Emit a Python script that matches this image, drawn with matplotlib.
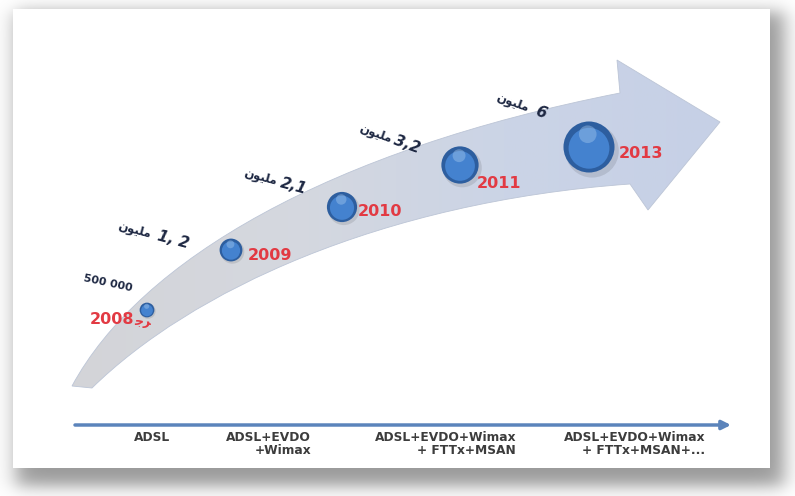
import numpy as np
import matplotlib.pyplot as plt
from matplotlib.path import Path
from matplotlib.patches import PathPatch, Rectangle
from matplotlib.colors import LinearSegmentedColormap

W, H = 795, 496

# ---- data ----
years = ["2008", "2009", "2010", "2011", "2013"]
subscribers = [0.5, 1.2, 2.1, 3.2, 6.0]          # millions
subscriber_labels = ["500 000", "1, 2", "2,1", "3,2", "6"]
technologies = [
    "ADSL",
    "ADSL+EVDO\n+Wimax",
    "ADSL+EVDO+Wimax\n+ FTTx+MSAN",
    "ADSL+EVDO+Wimax\n+ FTTx+MSAN+...",
]
MILLION = "\ufee5\ufeee\ufef4\ufee0\ufee3"   # "مليون" in visual order
YEAR0_SUFFIX = "\ufe9f\ufeae"                  # arabic letters after 2008

# ---- layout (pixels, y down) ----
bubble_pos = [(147, 310), (231, 250), (342, 207), (460, 165), (589, 147)]
year_pos = [(112, 320), (270, 256), (380, 211), (499, 184), (641, 153)]
count_pos = [(108, 283), (173, 240), (294, 186), (407, 145), (541, 113)]
count_rot = [-12, -15, -15, -20, -20]
word_gap = [0, 40, 35, 34, 30]
tech_right = [170, 311, 516, 705]
BUBBLE_SCALE = 225

NAVY = "#1d2742"
RED = "#e23a43"

fig = plt.figure(figsize=(W / 100, H / 100), dpi=100)
ax = fig.add_axes([0, 0, 1, 1])
ax.set_xlim(0, W)
ax.set_ylim(H, 0)
ax.axis("off")

# background with soft drop shadow
xs = np.arange(W) + 0.5
ys = np.arange(H) + 0.5


def soft(v, a, b, s):
    return 1 / (1 + np.exp(-(v - a) / s)) / (1 + np.exp((v - b) / s))


shadow = np.outer(soft(ys, 12, 486, 5), soft(xs, 16, 784, 6))
bg = 1 - 0.4 * shadow
ax.imshow(np.dstack([bg, bg, bg]), extent=(0, W, H, 0), origin="upper",
          zorder=0, interpolation="bilinear", aspect="auto")
ax.add_patch(Rectangle((13, 9), 757, 459, fc="white", ec="none", zorder=1))

# curved arrow
verts = [
    (72, 386),
    (140, 260), (330, 150), (620, 93),
    (617, 60),
    (720, 122),
    (648, 210),
    (630, 184),
    (380, 202), (190, 292), (92, 388),
    (72, 386),
]
codes = [Path.MOVETO, Path.CURVE4, Path.CURVE4, Path.CURVE4,
         Path.LINETO, Path.LINETO, Path.LINETO, Path.LINETO,
         Path.CURVE4, Path.CURVE4, Path.CURVE4, Path.CLOSEPOLY]
arrow = PathPatch(Path(verts, codes), fc="none", ec="#bcc5d6", lw=0.6, zorder=3)
ax.add_patch(arrow)
cmap = LinearSegmentedColormap.from_list(
    "arr", ["#d3d4d8", "#d5d8df", "#cbd4e6", "#c6d0e6"])
grad = ax.imshow(np.linspace(0, 1, 256)[None, :], cmap=cmap,
                 extent=(70, 722, 400, 50), aspect="auto", zorder=2)
grad.set_clip_path(arrow)

# bubbles
bx = np.array([p[0] for p in bubble_pos], float)
by = np.array([p[1] for p in bubble_pos], float)
s = BUBBLE_SCALE * np.array(subscribers)
r = np.sqrt(s) / 2 / 0.72
ax.scatter(bx + 0.12 * r, by + 0.15 * r, s=s * 1.1, color="black", alpha=0.1, lw=0, zorder=4)
ax.scatter(bx, by, s=s, color="#2d5e9f", lw=0, zorder=5)
ax.scatter(bx, by + 0.05 * r, s=s * 0.64, color="#4482cf", lw=0, zorder=6)
ax.scatter(bx - 0.05 * r, by - 0.5 * r, s=s * 0.12, color="#a9cbef", alpha=0.4, lw=0, zorder=7)

# year labels
for yr, (x, y) in zip(years, year_pos):
    ax.text(x, y, yr, color=RED, fontsize=11.5, fontweight="bold",
            ha="center", va="center", zorder=8)
ax.text(year_pos[0][0] + 22, year_pos[0][1] + 1, YEAR0_SUFFIX, color=RED,
        fontsize=9, fontweight="bold", ha="left", va="center", zorder=8)

# subscriber counts
for i, (lab, (x, y)) in enumerate(zip(subscriber_labels, count_pos)):
    rot = count_rot[i]
    if i == 0:
        ax.text(x, y, lab, color=NAVY, fontsize=8, fontweight="bold",
                rotation=rot, ha="center", va="center", rotation_mode="anchor", zorder=8)
        continue
    ax.text(x, y, lab, color=NAVY, fontsize=11, fontweight="bold", style="italic",
            rotation=rot, ha="center", va="center", rotation_mode="anchor", zorder=8)
    a = np.deg2rad(rot)
    wx = x - word_gap[i] * np.cos(a)
    wy = y + word_gap[i] * np.sin(a)
    ax.text(wx, wy, MILLION, color=NAVY, fontsize=8.5, fontweight="bold",
            rotation=rot, ha="center", va="center", rotation_mode="anchor", zorder=8)

# technology timeline
ax.annotate("", xy=(731, 425), xytext=(75, 425),
            arrowprops=dict(arrowstyle="-|>", color="#5b84bb", lw=2.5,
                            mutation_scale=13, shrinkA=0, shrinkB=0), zorder=8)
for lab, xr in zip(technologies, tech_right):
    ax.text(xr, 431, lab, color="#3c3c3c", fontsize=8.8, fontweight="bold",
            ha="right", va="top", multialignment="right", linespacing=0.95, zorder=8)

fig.savefig("out.png", dpi=100)
